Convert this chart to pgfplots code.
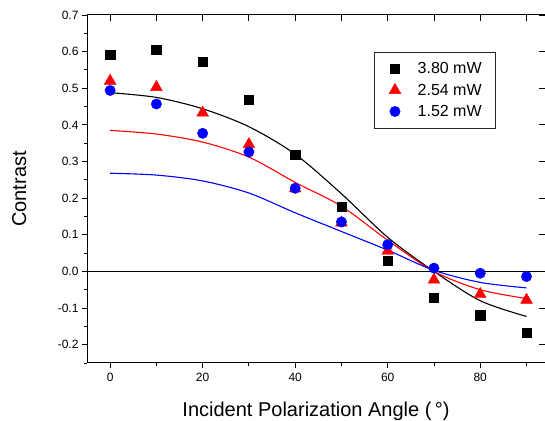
\documentclass[border=0pt]{standalone}
\usepackage{fontspec}
\setmainfont{Liberation Sans}
\usepackage{pgfplots}
\pgfplotsset{compat=1.18}

% measured data
\pgfplotstableread{
x y
0 0.591
10 0.605
20 0.572
30 0.468
40 0.318
50 0.176
60 0.029
70 -0.071
80 -0.119
90 -0.168
}\datahigh
\pgfplotstableread{
x y
0 0.520
10 0.503
20 0.433
30 0.347
40 0.226
50 0.133
60 0.056
70 -0.023
80 -0.062
90 -0.078
}\datamid
\pgfplotstableread{
x y
0 0.494
10 0.457
20 0.377
30 0.326
40 0.227
50 0.135
60 0.073
70 0.009
80 -0.005
90 -0.014
}\datalow

% fitted curves
\pgfplotstableread{
x y
0 0.488
10 0.475
20 0.444
30 0.395
40 0.320
50 0.212
60 0.093
70 0.000
80 -0.080
90 -0.123
}\fithigh
\pgfplotstableread{
x y
0 0.385
10 0.375
20 0.353
30 0.312
40 0.243
50 0.178
60 0.085
70 0.000
80 -0.050
90 -0.074
}\fitmid
\pgfplotstableread{
x y
0 0.268
10 0.263
20 0.247
30 0.214
40 0.160
50 0.109
60 0.058
70 0.003
80 -0.030
90 -0.045
}\fitlow

\begin{document}
\begin{tikzpicture}
\pgfplotsset{
  common/.style={
    width=458pt, height=348pt, scale only axis,
    xmin=-5, xmax=94, ymin=-0.25, ymax=0.7,
    axis line style={line width=1pt},
    major tick style={line width=0.9pt, black},
    minor tick style={line width=0.9pt, black},
  }
}
\begin{axis}[common, name=main,
  xtick={0,20,...,80}, minor xtick={10,30,...,90},
  ytick={-0.2,-0.1,...,0.71}, minor ytick={-0.25,-0.15,...,0.66},
  tick align=outside, xtick pos=bottom, ytick pos=left,
  major tick length=5pt, minor tick length=3pt,
  tick label style={font=\fontsize{12}{14}\selectfont},
  yticklabel style={/pgf/number format/.cd, fixed, fixed zerofill, precision=1, assume math mode=true},
  xticklabel style={/pgf/number format/assume math mode=true, yshift=-2pt},
  xlabel={Incident Polarization Angle (\,°)},
  ylabel={Contrast},
  label style={font=\fontsize{20}{24}\selectfont},
  xlabel style={at={(axis description cs:0.5,-0.155)}, anchor=base, inner sep=0pt},
  ylabel style={at={(axis description cs:-0.164,0.5)}, anchor=north, inner sep=0pt},
  legend style={at={(0.627,0.894)}, anchor=north west, draw=black!85, line width=0.8pt,
    inner xsep=10pt, inner ysep=7pt, column sep=12pt, row sep=2pt,
    nodes={font=\fontsize{16}{19}\selectfont, inner sep=3.3pt}},
  legend cell align=left,
  legend image code/.code={%
    \path (-10pt,0pt) (7pt,0pt);
    \draw[#1, line width=0.4pt] plot coordinates {(0pt,0pt)};},
]
  \addplot[forget plot, black, line width=1pt] coordinates {(-5,0) (94,0)};
  \addplot[forget plot, black, line width=1.1pt, smooth] table {\fithigh};
  \addplot[forget plot, red, line width=1.1pt, smooth] table {\fitmid};
  \addplot[forget plot, blue, line width=1.1pt, smooth] table {\fitlow};
  \addplot[only marks, mark=square*, mark size=4.7pt, black, fill=black] table {\datahigh};
  \addplot[only marks, mark=triangle*, mark size=6.8pt, red, fill=red] table {\datamid};
  \addplot[only marks, mark=*, mark size=5.2pt, blue, fill=blue] table {\datalow};
  \legend{3.80 mW, 2.54 mW, 1.52 mW}
\end{axis}
\begin{axis}[common,
  xtick={0,10,...,90}, ytick={-0.2,-0.1,...,0.71},
  tick align=inside, xtick pos=top, ytick pos=right,
  major tick length=6pt,
  xticklabels={}, yticklabels={},
]
\end{axis}
\pgfresetboundingbox
\path[use as bounding box] ([shift={(-87pt,-58pt)}]main.south west) rectangle ([shift={(0pt,15pt)}]main.north east);
\end{tikzpicture}
\end{document}
